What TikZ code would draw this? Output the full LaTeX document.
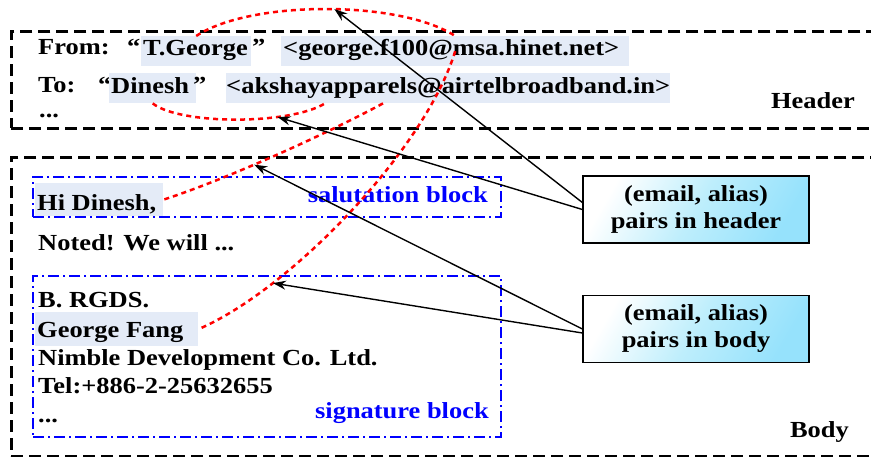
\documentclass[tikz,border=0pt]{standalone}
\usepackage{fontspec}
\setmainfont{Liberation Serif}[FakeStretch=1.15]
\usetikzlibrary{arrows.meta,calc}
\definecolor{hlc}{RGB}{228,235,247}
\definecolor{cyA}{RGB}{150,226,252}
\definecolor{cyM}{RGB}{190,238,252}
\definecolor{cyB}{RGB}{255,255,255}
\begin{document}
\begin{tikzpicture}[x=1pt,y=-1pt,
  every node/.style={font=\fontsize{23}{27}\selectfont\bfseries},
  partbox/.style={draw=black, line width=2.7pt, dash pattern=on 12pt off 6pt, anchor=north west, inner sep=0pt},
  blk/.style={draw=blue, line width=2.4pt, dash pattern=on 11pt off 4pt on 2pt off 4pt, anchor=north west, inner sep=0pt},
  hl/.style={fill=hlc, inner ysep=0pt, inner xsep=2pt, anchor=north west},
  txt/.style={anchor=base west, inner sep=0pt},
  lbl/.style={anchor=base east, inner sep=0pt},
  lnk/.style={red, line width=2.5pt, dash pattern=on 5pt off 4pt},
  pairbox/.style={draw=black, line width=1.3pt, shading=axis, left color=cyB, right color=cyA, middle color=cyM, shading angle=60, minimum width=226pt, minimum height=67pt, align=center, inner sep=0pt},
  arr/.style={-{Stealth[length=13pt,width=9pt]}, line width=1.4pt, black}]
\useasboundingbox (0,0) rectangle (871,457);
\clip (0,0) rectangle (871,457);
% containers
\node[partbox, minimum width=880pt, minimum height=97pt] (header) at (10,30) {};
\node[partbox, minimum width=880pt, minimum height=299pt] (body) at (10,156) {};
\node[blk, minimum width=468pt, minimum height=40pt] (salut) at (32,176) {};
\node[blk, minimum width=468pt, minimum height=161pt] (sig) at (32,275) {};
% header texts
\node[txt] (from) at (38,55) {From:};
\node[txt] (q1) at (127,55) {“};
\node[hl, text height=19pt, text depth=11pt] (tg) at (141,36) {\makebox[106pt][l]{T.George}};
\node[txt] (q2) at (252,55) {”};
\node[hl, text height=19pt, text depth=11pt] (ge) at (281,36) {\makebox[344pt][l]{<george.f100@msa.hinet.net>}};
\node[txt] (to) at (38,93) {To:};
\node[txt] (q3) at (98,93) {“};
\node[hl, text height=20pt, text depth=10pt] (dn) at (109,73) {\makebox[83pt][l]{Dinesh}};
\node[txt] (q4) at (193,93) {”};
\node[hl, inner xsep=0pt, text height=20pt, text depth=10pt] (ak) at (226,73) {\makebox[444pt][l]{<akshayapparels@airtelbroadband.in>}};
\node[txt] (hdots) at (39,118) {...};
\node[lbl] (hname) at (855,109) {Header};
% body texts
\node[hl, text height=27pt, text depth=6pt] (hd) at (35,183) {\makebox[124pt][l]{Hi Dinesh,}};
\node[lbl, text=blue] (saltxt) at (488,203) {salutation block};
\node[txt] (noted) at (38,251) {Noted! We will ...};
\node[txt] (rgds) at (38,308) {B. RGDS.};
\node[hl, text height=25pt, text depth=9pt] (gf) at (35,312) {\makebox[159pt][l]{George Fang}};
\node[txt] (nimble) at (38,366) {Nimble Development Co. Ltd.};
\node[txt] (tel) at (38,393) {Tel:+886-2-25632655};
\node[txt] (bdots) at (38,422) {...};
\node[lbl, text=blue] (sigtxt) at (489,418) {signature block};
\node[lbl] (bname) at (849,437) {Body};
% pair boxes
\node[pairbox] (b1) at (696,209.5) {(email, alias)\\pairs in header};
\node[pairbox] (b2) at (696,329) {(email, alias)\\pairs in body};
% red links
\draw[lnk] (tg.north) .. controls (250,0) and (400,0) .. (ge.north) coordinate[pos=0.53] (c1);
\draw[lnk] (ge.center) .. controls (425,150) and (290,290) .. (gf.east) coordinate[pos=0.75] (c4);
\draw[lnk] (dn.south) .. controls (180,125) and (290,125) .. ($(ak.south west)+(99,0)$) coordinate[pos=0.7] (c2);
\draw[lnk] ($(ak.south west)+(157,0)$) .. controls (330,132) and (230,178) .. (hd.east) coordinate[pos=0.6] (c3);
% arrows
\draw[arr] ($(b1.west)+(0,-7)$) -- (c1);
\draw[arr] (b1.west) -- (c2);
\draw[arr] (b2.west) -- (c3);
\draw[arr] ($(b2.west)+(0,4)$) -- (c4);
\end{tikzpicture}
\end{document}
